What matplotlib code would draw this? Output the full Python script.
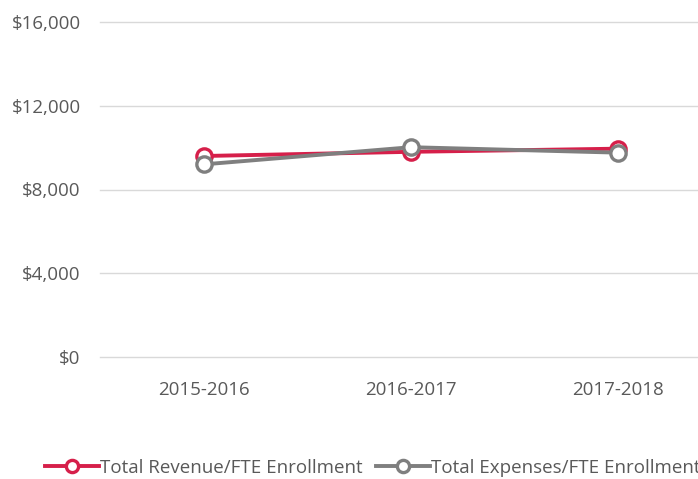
import matplotlib
matplotlib.use("Agg")
import matplotlib.pyplot as plt
from matplotlib.ticker import FuncFormatter

years = ["2015-2016", "2016-2017", "2017-2018"]
revenue_per_fte = [9600, 9800, 9950]
expenses_per_fte = [9200, 10020, 9760]
y_ticks = [0, 4000, 8000, 12000, 16000]

plt.rcParams["font.family"] = ["Open Sans", "DejaVu Sans"]
text_color = "#595959"

fig = plt.figure(figsize=(6.98, 4.79), dpi=100)
ax = fig.add_axes([100 / 698, (479 - 357) / 479, 622 / 698, 335 / 479])

ax.plot(years, revenue_per_fte, color="#D61F4A", lw=2.8, marker="o", ms=11,
        mfc="white", mew=2.4, label="Total Revenue/FTE Enrollment", zorder=3)
ax.plot(years, expenses_per_fte, color="#7F7F7F", lw=2.8, marker="o", ms=11,
        mfc="white", mew=2.4, label="Total Expenses/FTE Enrollment", zorder=4)

ax.set_xlim(-0.5, 2.5)
ax.set_ylim(0, 16000)
ax.set_yticks(y_ticks)
ax.yaxis.set_major_formatter(FuncFormatter(lambda v, _: f"${v:,.0f}"))
ax.grid(axis="y", color="#D9D9D9", lw=1)
for gl in ax.get_ygridlines():
    gl.set_clip_on(False)
ax.set_axisbelow(True)
for side in ["top", "right", "left", "bottom"]:
    ax.spines[side].set_visible(False)
ax.tick_params(length=0, labelsize=13.5, colors=text_color)
ax.tick_params(axis="y", pad=14)
ax.tick_params(axis="x", pad=17)

fig.legend(loc="center left", bbox_to_anchor=(45 / 698, 1 - 468 / 479), ncol=2,
           frameon=False, fontsize=13.5, labelcolor=text_color, handlelength=2.9,
           handletextpad=0.05, columnspacing=0.7, borderaxespad=0, borderpad=0,
           markerscale=0.8)

fig.savefig("out.png", dpi=100)
